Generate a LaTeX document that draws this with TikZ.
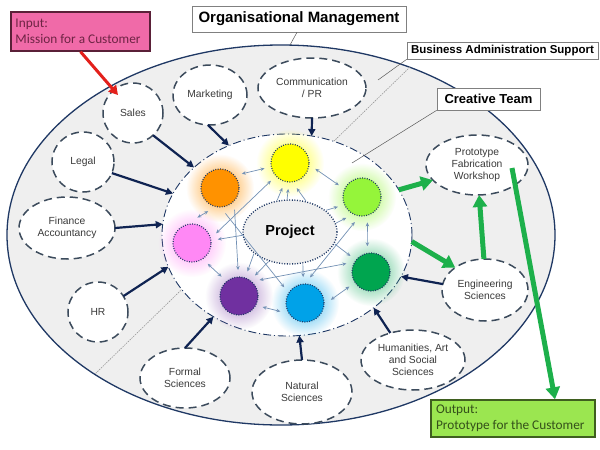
\documentclass[tikz,border=0pt]{standalone}
\usepackage{fontspec}
\setmainfont{Liberation Sans}
\newfontfamily\calfont{Carlito}
\usetikzlibrary{arrows.meta,shapes.geometric,fadings}
\tikzfading[name=glowfade, inner color=transparent!0, outer color=transparent!100]
\definecolor{navy}{HTML}{0F2352}
\definecolor{edgeblue}{HTML}{1F3864}
\definecolor{bgray}{HTML}{EFEFEF}
\definecolor{satgray}{HTML}{3C4B5C}
\definecolor{txtgray}{HTML}{3A3A3A}
\definecolor{steel}{HTML}{7391B5}
\definecolor{grn}{HTML}{1DB04B}
\definecolor{redarr}{HTML}{E3201B}
\definecolor{inpink}{HTML}{F06AA8}
\definecolor{inbord}{HTML}{5A2038}
\definecolor{intext}{HTML}{6E2444}
\definecolor{outgrn}{HTML}{9BE650}
\definecolor{outbord}{HTML}{3F5F1F}
\definecolor{outtext}{HTML}{34501A}
\definecolor{corange}{HTML}{FF9200}
\definecolor{cyellow}{HTML}{FFFF00}
\definecolor{clgreen}{HTML}{95F53A}
\definecolor{cdgreen}{HTML}{00A54F}
\definecolor{cblue}{HTML}{00A2E8}
\definecolor{cpurple}{HTML}{7030A0}
\definecolor{cpink}{HTML}{FF88F5}
\begin{document}
\begin{tikzpicture}[x=1pt,y=-1pt,
  sat/.style={ellipse, draw=satgray, fill=white, line width=1.5pt,
    dash pattern=on 8pt off 5pt, inner sep=0pt, outer sep=0pt, align=center,
    font=\fontsize{10.3}{12}\selectfont, text=txtgray},
  ball/.style={circle, minimum size=38pt, inner sep=0pt, outer sep=7pt,
    draw=edgeblue, line width=1.2pt, dash pattern=on 0.9pt off 1.5pt},
  lbl/.style={rectangle, draw=black!50, fill=white, line width=0.6pt, inner sep=0pt},
  ptr/.style={draw=black!65, line width=0.5pt},
  sm/.style={draw=steel, line width=0.7pt},
  dbl/.style={sm, {Stealth[length=4pt,width=3.5pt]}-{Stealth[length=4pt,width=3.5pt]}},
  one/.style={sm, -{Stealth[length=4pt,width=3.5pt]}},
  navarr/.style={draw=navy, line width=2.2pt, -{Triangle[length=7pt,width=7pt]}},
  grnarr/.style={draw=grn, line width=5pt, -{Triangle[length=12pt,width=14pt]}},
  divider/.style={draw=black!40, line width=0.6pt, dash pattern=on 1.5pt off 1pt}]
\useasboundingbox (0,0) rectangle (600,450);
% outer ellipse
\node[ellipse, draw=edgeblue, line width=1.3pt, fill=bgray, minimum width=548pt,
  minimum height=380pt, inner sep=0pt] (outer) at (281,235) {};
\coordinate (d1) at (410,67);
\coordinate (d2) at (95,374);
\draw[divider] (d1) -- (d2);
% inner ellipse
\node[ellipse, draw=edgeblue, fill=white, line width=0.9pt,
  dash pattern=on 8pt off 3pt on 1pt off 3pt, minimum width=250pt,
  minimum height=202pt, inner sep=0pt, outer sep=0pt] (inner) at (287,235) {};
% labels
\coordinate (omp) at (290,45);
\coordinate (bap) at (378,80);
\coordinate (ctp) at (352,163);
\node[lbl, minimum width=214pt, minimum height=26pt,
  font=\bfseries\fontsize{15}{18}\selectfont] (org) at (299,19) {Organisational Management};
\draw[ptr] ([xshift=-2pt]org.south) -- (omp);
\node[lbl, minimum width=191pt, minimum height=17pt,
  font=\bfseries\fontsize{11.5}{13}\selectfont] (bas) at (502.5,50.5) {Business Administration Support};
\draw[ptr] (bas.south west) -- (bap);
\node[lbl, minimum width=103pt, minimum height=22pt,
  font=\bfseries\fontsize{13}{15}\selectfont] (ct) at (488.5,99) {Creative Team};
\draw[ptr] (ct.south west) -- (ctp);
% satellites
\node[sat, minimum width=60pt, minimum height=60pt] (sales) at (133,113) {Sales};
\node[sat, minimum width=74pt, minimum height=60pt] (mkt) at (210,95) {Marketing};
\node[sat, minimum width=108pt, minimum height=60pt] (comm) at (312,88) {Communication\\/ PR};
\node[sat, minimum width=62pt, minimum height=60pt] (legal) at (83,162) {Legal};
\node[sat, minimum width=96pt, minimum height=62pt] (fin) at (67,228) {Finance\\Accountancy};
\node[sat, minimum width=60pt, minimum height=60pt] (hr) at (98,312) {HR};
\node[sat, minimum width=90pt, minimum height=60pt] (formal) at (185,378) {Formal\\Sciences};
\node[sat, minimum width=100pt, minimum height=64pt] (nat) at (302,392) {Natural\\Sciences};
\node[sat, minimum width=104pt, minimum height=60pt] (hum) at (413,360) {Humanities, Art\\and Social\\Sciences};
\node[sat, minimum width=86pt, minimum height=62pt] (eng) at (485,290) {Engineering\\Sciences};
\node[sat, minimum width=102pt, minimum height=60pt] (proto) at (477,165) {Prototype\\Fabrication\\Workshop};
% glows and balls
\coordinate (po) at (220,188);
\coordinate (py) at (290,163);
\coordinate (pl) at (362,197);
\coordinate (pd) at (371,272);
\coordinate (pb) at (305,303);
\coordinate (pp) at (239,296);
\coordinate (pk) at (192,243);
\fill[corange!85, path fading=glowfade] (po) circle[radius=34];
\fill[cyellow!85, path fading=glowfade] (py) circle[radius=34];
\fill[clgreen!85, path fading=glowfade] (pl) circle[radius=34];
\fill[cdgreen!70, path fading=glowfade] (pd) circle[radius=34];
\fill[cblue!75, path fading=glowfade] (pb) circle[radius=34];
\fill[cpurple!60, path fading=glowfade] (pp) circle[radius=34];
\fill[cpink!85, path fading=glowfade] (pk) circle[radius=34];
\node[ball, fill=corange] (orange) at (po) {};
\node[ball, fill=cyellow] (yellow) at (py) {};
\node[ball, fill=clgreen] (lgreen) at (pl) {};
\node[ball, fill=cdgreen] (dgreen) at (pd) {};
\node[ball, fill=cblue] (blue) at (pb) {};
\node[ball, fill=cpurple] (purple) at (pp) {};
\node[ball, fill=cpink] (pink) at (pk) {};
% project
\node[ellipse, draw=edgeblue, fill=bgray, line width=1.4pt, dash pattern=on 1pt off 1.6pt,
  minimum width=94pt, minimum height=64pt, inner sep=0pt, outer sep=1pt,
  font=\bfseries\fontsize{14.5}{17}\selectfont] (proj) at (290,232) {Project};
% ring arrows
\draw[dbl] (orange.33) -- (yellow.192);
\draw[dbl] (yellow.-13) -- (lgreen.153);
\draw[dbl] (lgreen.-78) -- (dgreen.98);
\draw[dbl] (dgreen.214) -- (blue.7);
\draw[dbl] (blue.199) -- (purple.335);
\draw[dbl] (purple.132) -- (pink.307);
\draw[dbl] (pink.78) -- (orange.243);
% cross arrows
\draw[dbl] (pink.22) -- (yellow.223);
\draw[dbl] (purple.38) -- (dgreen.161);
\draw[dbl] (lgreen.254) -- (blue.79);
\draw[one] (orange.304) -- (purple.92);
\draw[one] (orange.282) -- (blue.143);
% project arrows
\draw[one] (proj.184) -- (pink.8);
\draw[one] (proj.112) -- (yellow.253);
\draw[one] (proj.95) -- (yellow.266);
\draw[one] (proj.63) -- (yellow.285);
\draw[one] (proj.31) -- (lgreen.202);
\draw[one] (proj.11) -- (lgreen.233);
\draw[one] (proj.345) -- (dgreen.142);
\draw[one] (proj.211) -- (purple.71);
\draw[one] (proj.234) -- (purple.52);
\draw[one] (proj.292) -- (blue.94);
% navy arrows
\draw[navarr] (sales.312) -- (inner.144);
\draw[navarr] (mkt.266) -- (inner.123);
\draw[navarr] (comm.270) -- (inner.76);
\draw[navarr] (legal.339) -- (inner.160);
\draw[navarr] (fin.0) -- (inner.175);
\draw[navarr] (hr.32) -- (inner.195);
\draw[navarr] (formal.90) -- (inner.228);
\draw[navarr] (nat.90) -- (inner.277);
\draw[navarr] (hum.130) -- (inner.320);
\draw[navarr] (eng.172) -- (inner.340);
% in/out boxes
\node[rectangle, draw=inbord, fill=inpink, line width=1.4pt, minimum width=139pt,
  minimum height=39pt, inner sep=0pt, text=intext] (input) at (80.5,31.5)
  {\begin{minipage}{130pt}\calfont\fontsize{13.3}{16}\selectfont Input:\\Mission for a Customer\end{minipage}};
\node[rectangle, draw=outbord, fill=outgrn, line width=1.4pt, minimum width=164pt,
  minimum height=37pt, inner sep=0pt, text=outtext] (output) at (513,418.5)
  {\begin{minipage}{154pt}\calfont\fontsize{13.3}{16}\selectfont Output:\\Prototype for the Customer\end{minipage}};
% green arrows
\draw[grnarr] (inner.22) -- (proto.199);
\draw[grnarr] (inner.357) -- (eng.143);
\draw[grnarr] (eng.92) -- (proto.274);
\draw[grnarr] ([xshift=35pt,yshift=-3pt]proto.center) -- ([xshift=42pt]output.north);
% red arrow
\draw[draw=redarr, line width=3pt, -{Triangle[length=9pt,width=10pt]}]
  (input.south) -- ([xshift=-15pt,yshift=18pt]sales.center);
\end{tikzpicture}
\end{document}
